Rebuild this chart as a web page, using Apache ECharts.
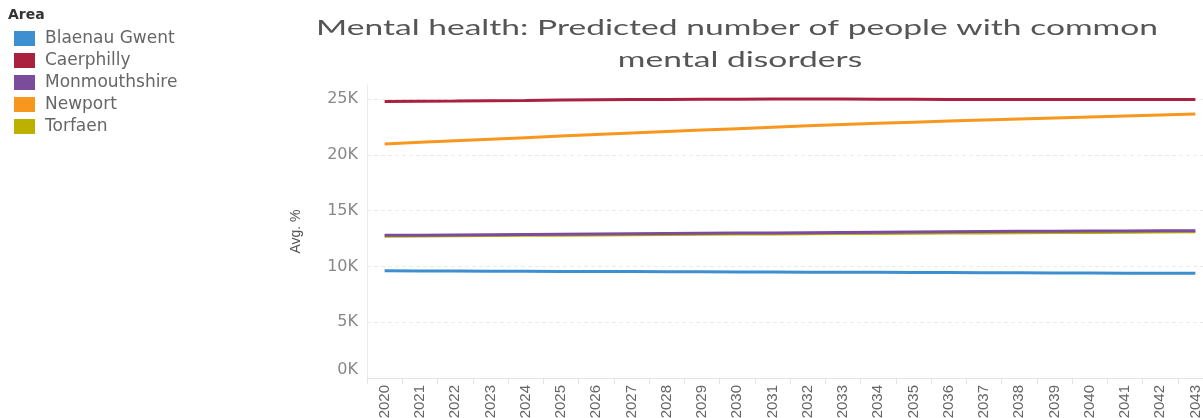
<!DOCTYPE html>
<html>
<head>
<meta charset="utf-8">
<script src="https://cdn.jsdelivr.net/npm/echarts@6/dist/echarts.min.js"></script>
<style>
html,body{margin:0;padding:0;background:#fff;}
#chart{width:1203px;height:418px;}
</style>
</head>
<body>
<div id="chart"></div>
<script>
const titleLines = ['Mental health: Predicted number of people with common', 'mental disorders'];
const legendTitle = 'Area';
const yAxisName = 'Avg. %';
const years = ['2020','2021','2022','2023','2024','2025','2026','2027','2028','2029','2030','2031','2032','2033','2034','2035','2036','2037','2038','2039','2040','2041','2042','2043'];
const areaNames = ['Blaenau Gwent','Caerphilly','Monmouthshire','Newport','Torfaen'];
const blaenauGwent = [9600,9590,9580,9570,9560,9550,9545,9535,9525,9515,9505,9495,9485,9475,9465,9455,9445,9435,9425,9415,9405,9395,9390,9380];
const caerphilly = [24780,24800,24820,24850,24870,24900,24930,24950,24960,24970,24980,24990,25000,24990,24980,24970,24960,24950,24940,24940,24940,24940,24940,24950];
const monmouthshire = [12780,12800,12820,12840,12860,12880,12900,12920,12940,12960,12980,13000,13020,13040,13060,13080,13100,13120,13140,13150,13160,13175,13190,13200];
const newport = [20970,21110,21250,21390,21530,21670,21810,21950,22080,22210,22340,22470,22590,22710,22820,22920,23020,23120,23210,23300,23390,23480,23570,23650];
const torfaen = [12700,12720,12740,12760,12780,12800,12820,12840,12860,12875,12890,12905,12920,12935,12950,12965,12980,12995,13010,13025,13040,13060,13080,13100];
const colors = ['#3d8fd0','#a9213e','#7b4b9c','#f8971d','#bcb100'];

const seriesData = [blaenauGwent, caerphilly, monmouthshire, newport, torfaen];
const drawOrder = [4, 2, 0, 3, 1];

const titleFont = '22px Lato';
const measureCtx = document.createElement('canvas').getContext('2d');
measureCtx.font = titleFont;
const titleScale = 842 / measureCtx.measureText(titleLines[0]).width;

const chart = echarts.init(document.getElementById('chart'), null, {renderer: 'canvas'});
chart.setOption({
  animation: false,
  color: colors,
  graphic: [
    {type: 'text', x: 737, y: 28, scaleX: titleScale, style: {text: titleLines[0], x: 0, y: 0, font: titleFont, fill: '#555', align: 'center', verticalAlign: 'middle'}},
    {type: 'text', x: 740, y: 60, scaleX: titleScale, style: {text: titleLines[1], x: 0, y: 0, font: titleFont, fill: '#555', align: 'center', verticalAlign: 'middle'}},
    {type: 'text', x: 8, y: 15, style: {text: legendTitle, x: 0, y: 0, font: 'bold 14px "DejaVu Sans"', fill: '#333', verticalAlign: 'middle'}}
  ],
  legend: {
    orient: 'vertical',
    left: 14,
    top: 30,
    padding: 0,
    icon: 'rect',
    itemWidth: 21,
    itemHeight: 15,
    itemGap: 5,
    data: areaNames,
    textStyle: {fontFamily: 'DejaVu Sans', fontSize: 17, lineHeight: 15, color: '#666', padding: [0,0,0,5]}
  },
  grid: {left: 367, width: 846, top: 85, height: 293, containLabel: false, outerBoundsMode: 'none'},
  xAxis: {
    type: 'category',
    data: years,
    boundaryGap: true,
    axisLine: {show: true, lineStyle: {color: '#e4e4e4', width: 1}},
    axisTick: {show: true, length: 6, lineStyle: {color: '#e4e4e4'}},
    axisLabel: {rotate: 90, interval: 0, margin: 7, fontFamily: 'Liberation Sans', fontSize: 15, color: '#666'},
    splitLine: {show: false}
  },
  yAxis: {
    type: 'value',
    min: 0,
    max: 26250,
    interval: 5000,
    name: yAxisName,
    nameLocation: 'middle',
    nameGap: 64,
    nameTextStyle: {fontFamily: 'Liberation Sans', fontSize: 14, color: '#555'},
    axisLine: {show: true, lineStyle: {color: '#ececec'}},
    axisTick: {show: false},
    axisLabel: {
      margin: 9,
      fontFamily: 'DejaVu Sans', fontSize: 16, color: '#888',
      showMaxLabel: false,
      verticalAlignMinLabel: 'bottom',
      formatter: v => (v / 1000) + 'K'
    },
    splitLine: {show: true, showMaxLine: false, showMinLine: false, lineStyle: {color: '#ebebeb', type: [4, 3]}}
  },
  series: drawOrder.map(i => ({
    name: areaNames[i],
    type: 'line',
    data: seriesData[i],
    showSymbol: false,
    color: colors[i],
    lineStyle: {width: 3, color: colors[i]},
    clip: false
  }))
});
</script>
</body>
</html>
